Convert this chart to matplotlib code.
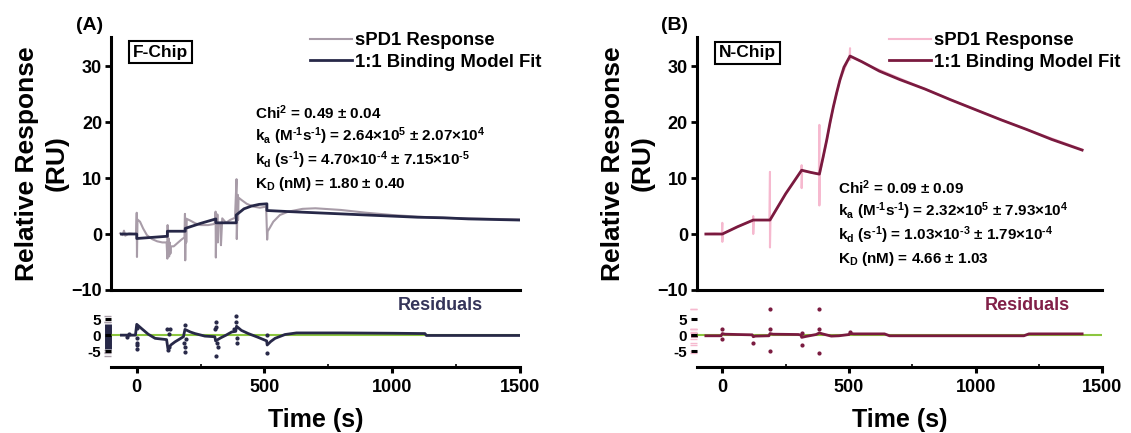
import matplotlib
matplotlib.use('Agg')
import matplotlib.pyplot as plt

plt.rcParams['font.family'] = ['Liberation Sans', 'DejaVu Sans']
plt.rcParams['font.weight'] = 'bold'
plt.rcParams['mathtext.fontset'] = 'custom'
plt.rcParams['mathtext.rm'] = 'Liberation Sans:bold'
plt.rcParams['mathtext.bf'] = 'Liberation Sans:bold'
plt.rcParams['mathtext.it'] = 'Liberation Sans:bold'
plt.rcParams['mathtext.default'] = 'bf'

# ---- panel A (F-Chip) data ----
resp_a_t = [-65, -55, -50, -45, -30, -10, -2, 0, 1, 3, 13, 25, 40, 60, 80, 100, 117,
            120, 121, 123, 125, 127, 129, 132, 134, 145, 160, 175, 187,
            189, 190, 192, 194, 196, 210, 230, 250, 280, 305,
            309, 310, 312, 314, 316, 318, 320, 328, 330, 335, 350, 365, 385,
            391, 392, 394, 396, 397, 399, 410, 431, 457, 483, 507,
            511, 513, 520, 535, 561, 594, 650, 700, 800, 900, 1000, 1100, 1200, 1300, 1400, 1500]
resp_a_v = [0.1, -0.2, 0.6, -0.3, 0.1, 0.0, 0.1, 3.8, -4.1, 2.6, 2.2, 1.0, -0.2, -0.9, -1.3, -1.5, -1.5,
            -4.4, 1.6, -3.2, -0.8, -4.0, -1.5, -3.5, -2.2, -2.2, -1.6, -1.0, -0.6,
            3.6, -4.7, 2.8, -1.5, 2.7, 2.4, 1.9, 1.6, 1.6, 1.8,
            4.0, -4.2, 2.5, 0.5, 3.5, -1.5, 1.8, 2.0, -2.0, 2.8, 2.0, 2.5, 2.9,
            9.8, -0.9, 3.0, 7.0, 2.5, 6.5, 6.1, 5.4, 4.9, 4.7, 4.9,
            -1.0, 0.5, 1.0, 2.2, 3.4, 4.0, 4.5, 4.6, 4.3, 3.8, 3.4, 3.1, 2.9, 2.8, 2.7, 2.6]

fit_a_t = [-60, 0, 0, 60, 120, 120, 190, 190, 250, 310, 310, 390, 390, 420, 450, 480, 510, 510,
           600, 700, 800, 900, 1000, 1100, 1200, 1300, 1400, 1500]
fit_a_v = [0, 0, -0.8, -0.6, -0.4, 0.5, 0.5, 1.0, 1.9, 2.7, 2.0, 2.0, 3.4, 4.5, 5.0, 5.3, 5.4, 4.2,
           4.0, 3.8, 3.6, 3.4, 3.2, 3.0, 2.9, 2.7, 2.6, 2.5]

res_a_t = [-60, -5, 0, 20, 45, 72, 117, 122, 135, 150, 183, 189, 210, 228, 267, 306, 309, 330,
           350, 372, 388, 391, 410, 437, 476, 509, 511, 525, 542, 581, 626, 800, 1000, 1129, 1135, 1500]
res_a_v = [0.0, 0.0, 3.4, 2.0, 0.3, -1.0, -1.4, -4.2, -3.0, -2.1, -0.5, 1.8, 1.0, 0.5, -0.3, -0.5, -1.8, -0.8,
           0.0, 1.0, 1.2, 2.8, 1.5, 0.5, -0.7, -1.8, -3.1, -2.0, -1.0, 0.2, 0.7, 0.7, 0.6, 0.5, -0.1, -0.1]

res_a_pts_t = [-40, -30, 0, 0, 0, 0, 0, 118, 122, 125, 128, 130, 186, 189, 189, 190, 192,
               305, 309, 310, 312, 315, 318, 380, 388, 390, 392, 394, 511, 511]
res_a_pts_v = [-0.5, 0.3, 2.1, -1.0, -2.4, -3.1, -4.2, 2.0, -4.7, -3.6, 0.5, 2.0, -2.6, 3.1, -5.3, -3.6, -1.2,
               1.8, -6.6, 4.2, 2.6, -2.6, -3.6, 1.8, 6.0, 4.2, -1.0, -2.6, 0.0, -5.7]

# ---- panel B (N-Chip) data ----
resp_b_t = [-65, -30, -2, 0, 0, 2, 60, 120, 122, 122, 124, 186, 188, 188, 190, 250,
            311, 313, 313, 315, 350, 381, 383, 383, 385, 412, 438, 464, 502, 504, 504, 506,
            600, 800, 1000, 1200, 1420]
resp_b_v = [0, 0.1, 0, 2.0, -1.4, 0.1, 1.3, 2.4, 3.2, 0.0, 2.5, 2.5, 11.1, -2.4, 2.6, 7.2,
            11.3, 12.3, 8.2, 11.3, 11.0, 10.7, 19.5, 5.1, 10.8, 16.8, 22.7, 27.5, 31.7, 33.2, 31.1, 31.7,
            29.7, 25.9, 22.2, 18.7, 15.1]

fit_b_t = [-65, 0, 60, 122, 188, 250, 313, 350, 383, 398, 412, 425, 438, 451, 464, 480, 504,
           550, 620, 700, 800, 900, 1000, 1100, 1200, 1300, 1420]
fit_b_v = [0, 0, 1.3, 2.5, 2.5, 7.2, 11.4, 11.0, 10.7, 13.8, 16.8, 19.9, 22.7, 25.2, 27.5, 29.8, 31.8,
           30.8, 29.1, 27.6, 25.9, 24.0, 22.2, 20.4, 18.7, 16.9, 15.0]

res_b_t = [-65, -5, 0, 10, 60, 118, 122, 130, 184, 188, 200, 300, 311, 313, 330, 370, 383, 395,
           430, 460, 500, 504, 520, 640, 660, 700, 1190, 1210, 1420]
res_b_v = [-0.2, -0.2, 0.5, 0.3, 0.2, 0.1, -0.5, -0.3, -0.2, 0.5, 0.3, 0.2, 0.0, -0.7, -0.4, 0.2, 0.7, 0.4,
           -0.3, -0.2, 0.2, 0.5, 0.4, 0.4, -0.2, -0.2, -0.2, 0.4, 0.4]

res_b_pts_t = [0, 0, 122, 188, 188, 188, 313, 313, 383, 383, 383, 504]
res_b_pts_v = [1.8, -1.3, -2.4, 8.3, 1.9, -4.9, 0.8, -3.1, 8.3, 1.8, -5.5, 1.0]

stats_a = [r'Chi$^{2}$ = 0.49 ± 0.04',
           r'k$_{a}$ (M$^{\text{-1}}$s$^{\text{-1}}$) = 2.64×10$^{5}$ ± 2.07×10$^{4}$',
           r'k$_{d}$ (s$^{\text{-1}}$) = 4.70×10$^{\text{-4}}$ ± 7.15×10$^{\text{-5}}$',
           r'K$_{D}$ (nM) = 1.80 ± 0.40']
stats_b = [r'Chi$^{2}$ = 0.09 ± 0.09',
           r'k$_{a}$ (M$^{\text{-1}}$s$^{\text{-1}}$) = 2.32×10$^{5}$ ± 7.93×10$^{4}$',
           r'k$_{d}$ (s$^{\text{-1}}$) = 1.03×10$^{\text{-3}}$ ± 1.79×10$^{\text{-4}}$',
           r'K$_{D}$ (nM) = 4.66 ± 1.03']

W, H = 1131, 433
green = '#8cc63f'

fig = plt.figure(figsize=(11.31, 4.33), dpi=100)


def fx(px):
    return px / W


def fy(py):
    return 1 - py / H


def draw_panel(left, right, tag, chip, chip_xy, resp, fit, res, res_pts,
               c_resp, c_fit, c_res_txt, stats, stats_xy, leg_xy, res_txt_x):
    # main sensorgram
    ax = fig.add_axes([fx(left), fy(290), (right - left) / W, (290 - 37) / H])
    ax.patch.set_visible(False)
    ax.plot(resp[0], resp[1], color=c_resp, lw=1.5, label='sPD1 Response')
    ax.plot(fit[0], fit[1], color=c_fit, lw=2, label='1:1 Binding Model Fit')
    ax.set_xlim(-100, 1500)
    ax.set_ylim(-10, 35.2)
    for s in ['top', 'right']:
        ax.spines[s].set_visible(False)
    for s in ['left', 'bottom']:
        ax.spines[s].set_linewidth(2.2)
    ax.set_xticks([])
    ax.set_yticks([-10, 0, 10, 20, 30])
    ax.tick_params(axis='y', length=4.5, width=2, labelsize=13, pad=2)
    ax.legend(loc='upper left', bbox_to_anchor=(fx(leg_xy[0]), fy(leg_xy[1])),
              bbox_transform=fig.transFigure, frameon=False,
              prop={'weight': 'bold', 'size': 13.3}, handlelength=2.3,
              handletextpad=0.15, borderpad=0, borderaxespad=0, labelspacing=0.25)

    # residuals
    ar = fig.add_axes([fx(left), fy(367), (right - left) / W, (367 - 303.3) / H])
    ar.patch.set_visible(False)
    ar.axhline(0, color=green, lw=1.5, zorder=1)
    ar.plot(res[0], res[1], color=c_fit, lw=2, zorder=2)
    ar.scatter(res_pts[0], res_pts[1], s=4, color=c_fit, zorder=3)
    ar.set_xlim(-100, 1500)
    ar.set_ylim(-10, 10)
    for s in ['top', 'right', 'left']:
        ar.spines[s].set_visible(False)
    ar.spines['bottom'].set_linewidth(2.2)
    ar.set_yticks([-5, 0, 5])
    ar.set_yticklabels(['-5', '0', '5'])
    ar.set_xticks([0, 500, 1000, 1500])
    ar.set_xticks([250, 750, 1250], minor=True)
    ar.tick_params(axis='y', length=4.5, width=2.2, labelsize=11, pad=3)
    ar.tick_params(axis='x', which='major', length=4.5, width=2.2, labelsize=13, pad=4)
    ar.tick_params(axis='x', which='minor', length=2, width=1.2, direction='in')
    # residual distribution strip on the left edge
    lo, hi = min(res[1]), max(res[1])
    ar.vlines(-0.008, lo, hi, transform=ar.get_yaxis_transform(), color=c_fit,
              lw=5, clip_on=False, zorder=0)
    for v in res_pts[1]:
        if v < lo or v > hi:
            ar.hlines(v, -0.017, 0, transform=ar.get_yaxis_transform(), color=c_resp,
                      lw=1, clip_on=False, zorder=0)
    fig.text(fx(res_txt_x), fy(306), 'Residuals', color=c_res_txt, fontsize=13,
             ha='left', va='center')

    # labels
    fig.text(fx(left - 69), fy(163.5), 'Relative Response\n(RU)', rotation=90,
             ha='center', va='center', multialignment='center', fontsize=19,
             linespacing=1.3)
    fig.text(fx((left + right) / 2), fy(420), 'Time (s)', ha='center', va='center',
             fontsize=18)
    fig.text(fx(left - 22), fy(25), tag, ha='center', va='center', fontsize=14)
    fig.text(fx(chip_xy[0]), fy(chip_xy[1]), chip, ha='center', va='center',
             fontsize=12.5,
             bbox=dict(boxstyle='square,pad=0.2', fc='white', ec='black', lw=1.5))
    for i, line in enumerate(stats):
        fig.text(fx(stats_xy[0]), fy(stats_xy[1] + i * 23.5), line, ha='left',
                 va='center', fontsize=11)


draw_panel(111.2, 519.6, '(A)', 'F-Chip', (160.5, 52),
           (resp_a_t, resp_a_v), (fit_a_t, fit_a_v), (res_a_t, res_a_v),
           (res_a_pts_t, res_a_pts_v), '#a89ca8', '#272848', '#35355a',
           stats_a, (255, 113), (310, 32), 398)
draw_panel(697, 1102.4, '(B)', 'N-Chip', (747.5, 53),
           (resp_b_t, resp_b_v), (fit_b_t, fit_b_v), (res_b_t, res_b_v),
           (res_b_pts_t, res_b_pts_v), '#f6b9cf', '#7a1a3f', '#812048',
           stats_b, (838, 188), (889, 32), 985)

fig.savefig('out.png', dpi=100)
